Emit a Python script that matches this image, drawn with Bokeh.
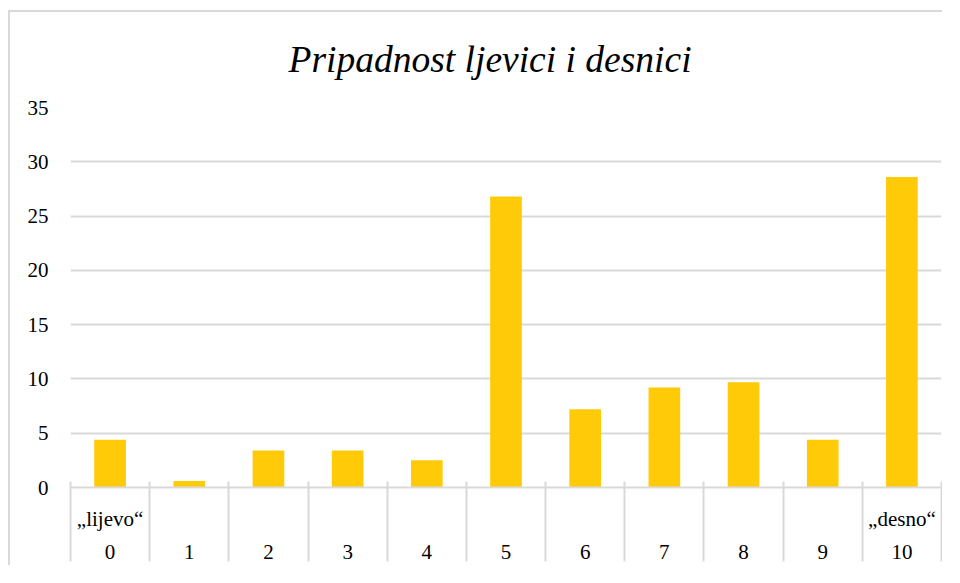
from bokeh.plotting import figure
from bokeh.models import FixedTicker, LinearAxis, ColumnDataSource, Range1d
from bokeh.embed import file_html
from bokeh.resources import INLINE

# ---- data ----
categories = ["0", "1", "2", "3", "4", "5", "6", "7", "8", "9", "10"]
values = [4.4, 0.6, 3.4, 3.4, 2.5, 26.8, 7.2, 9.2, 9.7, 4.4, 28.6]
end_labels = {0: "\u201elijevo\u201c", 10: "\u201edesno\u201c"}
y_ticks = [0, 5, 10, 15, 20, 25, 30, 35]
title_text = "Pripadnost ljevici i desnici"

FONT = "Liberation Serif"
GRID = "#d9d9d9"
BAR = "#FFCA08"
LBL = "21px"

xs = list(range(len(categories)))
src = ColumnDataSource(dict(x=xs, v=values))

p = figure(width=934, height=555, output_backend="svg", toolbar_location=None,
           x_range=Range1d(-0.5, len(categories) - 0.5), y_range=Range1d(0, 35),
           min_border_left=60, min_border_right=3, min_border_top=95, min_border_bottom=80,
           x_axis_type=None)
p.styles = {"margin-left": "8px", "margin-top": "10px",
            "border-left": "2px solid #d9d9d9", "border-top": "2px solid #d9d9d9"}
p.outline_line_color = None
p.background_fill_color = "white"
p.border_fill_color = "white"

p.title.text = title_text
p.title.text_font = FONT
p.title.text_font_style = "italic"
p.title.text_font_size = "37.5px"
p.title.text_color = "#000000"
p.title.align = "left"
p.title.vertical_align = "top"
p.title.standoff = 52
p.title.offset = 218

p.vbar(x="x", top="v", width=0.4, source=src, fill_color=BAR, line_color=None)

# y axis
yax = p.yaxis[0]
yax.ticker = FixedTicker(ticks=y_ticks)
yax.axis_line_color = None
yax.major_tick_line_color = None
yax.minor_tick_line_color = None
yax.major_tick_out = 0
yax.major_label_standoff = 22
yax.major_label_text_font = FONT
yax.major_label_text_font_size = LBL
yax.major_label_text_color = "#000000"

p.xgrid.visible = False
p.ygrid.ticker = FixedTicker(ticks=y_ticks)
p.ygrid.grid_line_color = GRID
p.ygrid.grid_line_width = 2

bounds = [i - 0.5 for i in range(len(categories) + 1)]

# inner category level
ax1 = LinearAxis(ticker=FixedTicker(ticks=xs))
ax1.axis_line_color = GRID
ax1.axis_line_width = 2
ax1.major_tick_line_color = None
ax1.minor_tick_line_color = None
ax1.major_tick_out = 0
ax1.major_tick_in = 0
ax1.major_label_overrides = {i: end_labels.get(i, "") for i in xs}
ax1.major_label_standoff = 19
ax1.major_label_text_font = FONT
ax1.major_label_text_font_size = LBL
ax1.major_label_text_color = "#000000"
p.add_layout(ax1, "below")

# outer category level (numbers)
ax2 = LinearAxis(ticker=FixedTicker(ticks=xs))
ax2.axis_line_color = None
ax2.major_tick_line_color = None
ax2.minor_tick_line_color = None
ax2.major_tick_out = 0
ax2.major_tick_in = 0
ax2.major_label_overrides = {i: categories[i] for i in xs}
ax2.major_label_standoff = 11
ax2.major_label_text_font = FONT
ax2.major_label_text_font_size = LBL
ax2.major_label_text_color = "#000000"
p.add_layout(ax2, "below")

# separators between categories, drawn upward from the bottom
ax3 = LinearAxis(ticker=FixedTicker(ticks=[], minor_ticks=bounds))
ax3.axis_line_color = None
ax3.major_tick_line_color = None
ax3.major_tick_out = 0
ax3.major_tick_in = 0
ax3.minor_tick_line_color = GRID
ax3.minor_tick_line_width = 2
ax3.minor_tick_out = 0
ax3.minor_tick_in = 80
ax3.major_label_standoff = 0
ax3.major_label_text_font_size = "0px"
p.add_layout(ax3, "below")

open("out.html", "w").write(file_html(p, INLINE))
